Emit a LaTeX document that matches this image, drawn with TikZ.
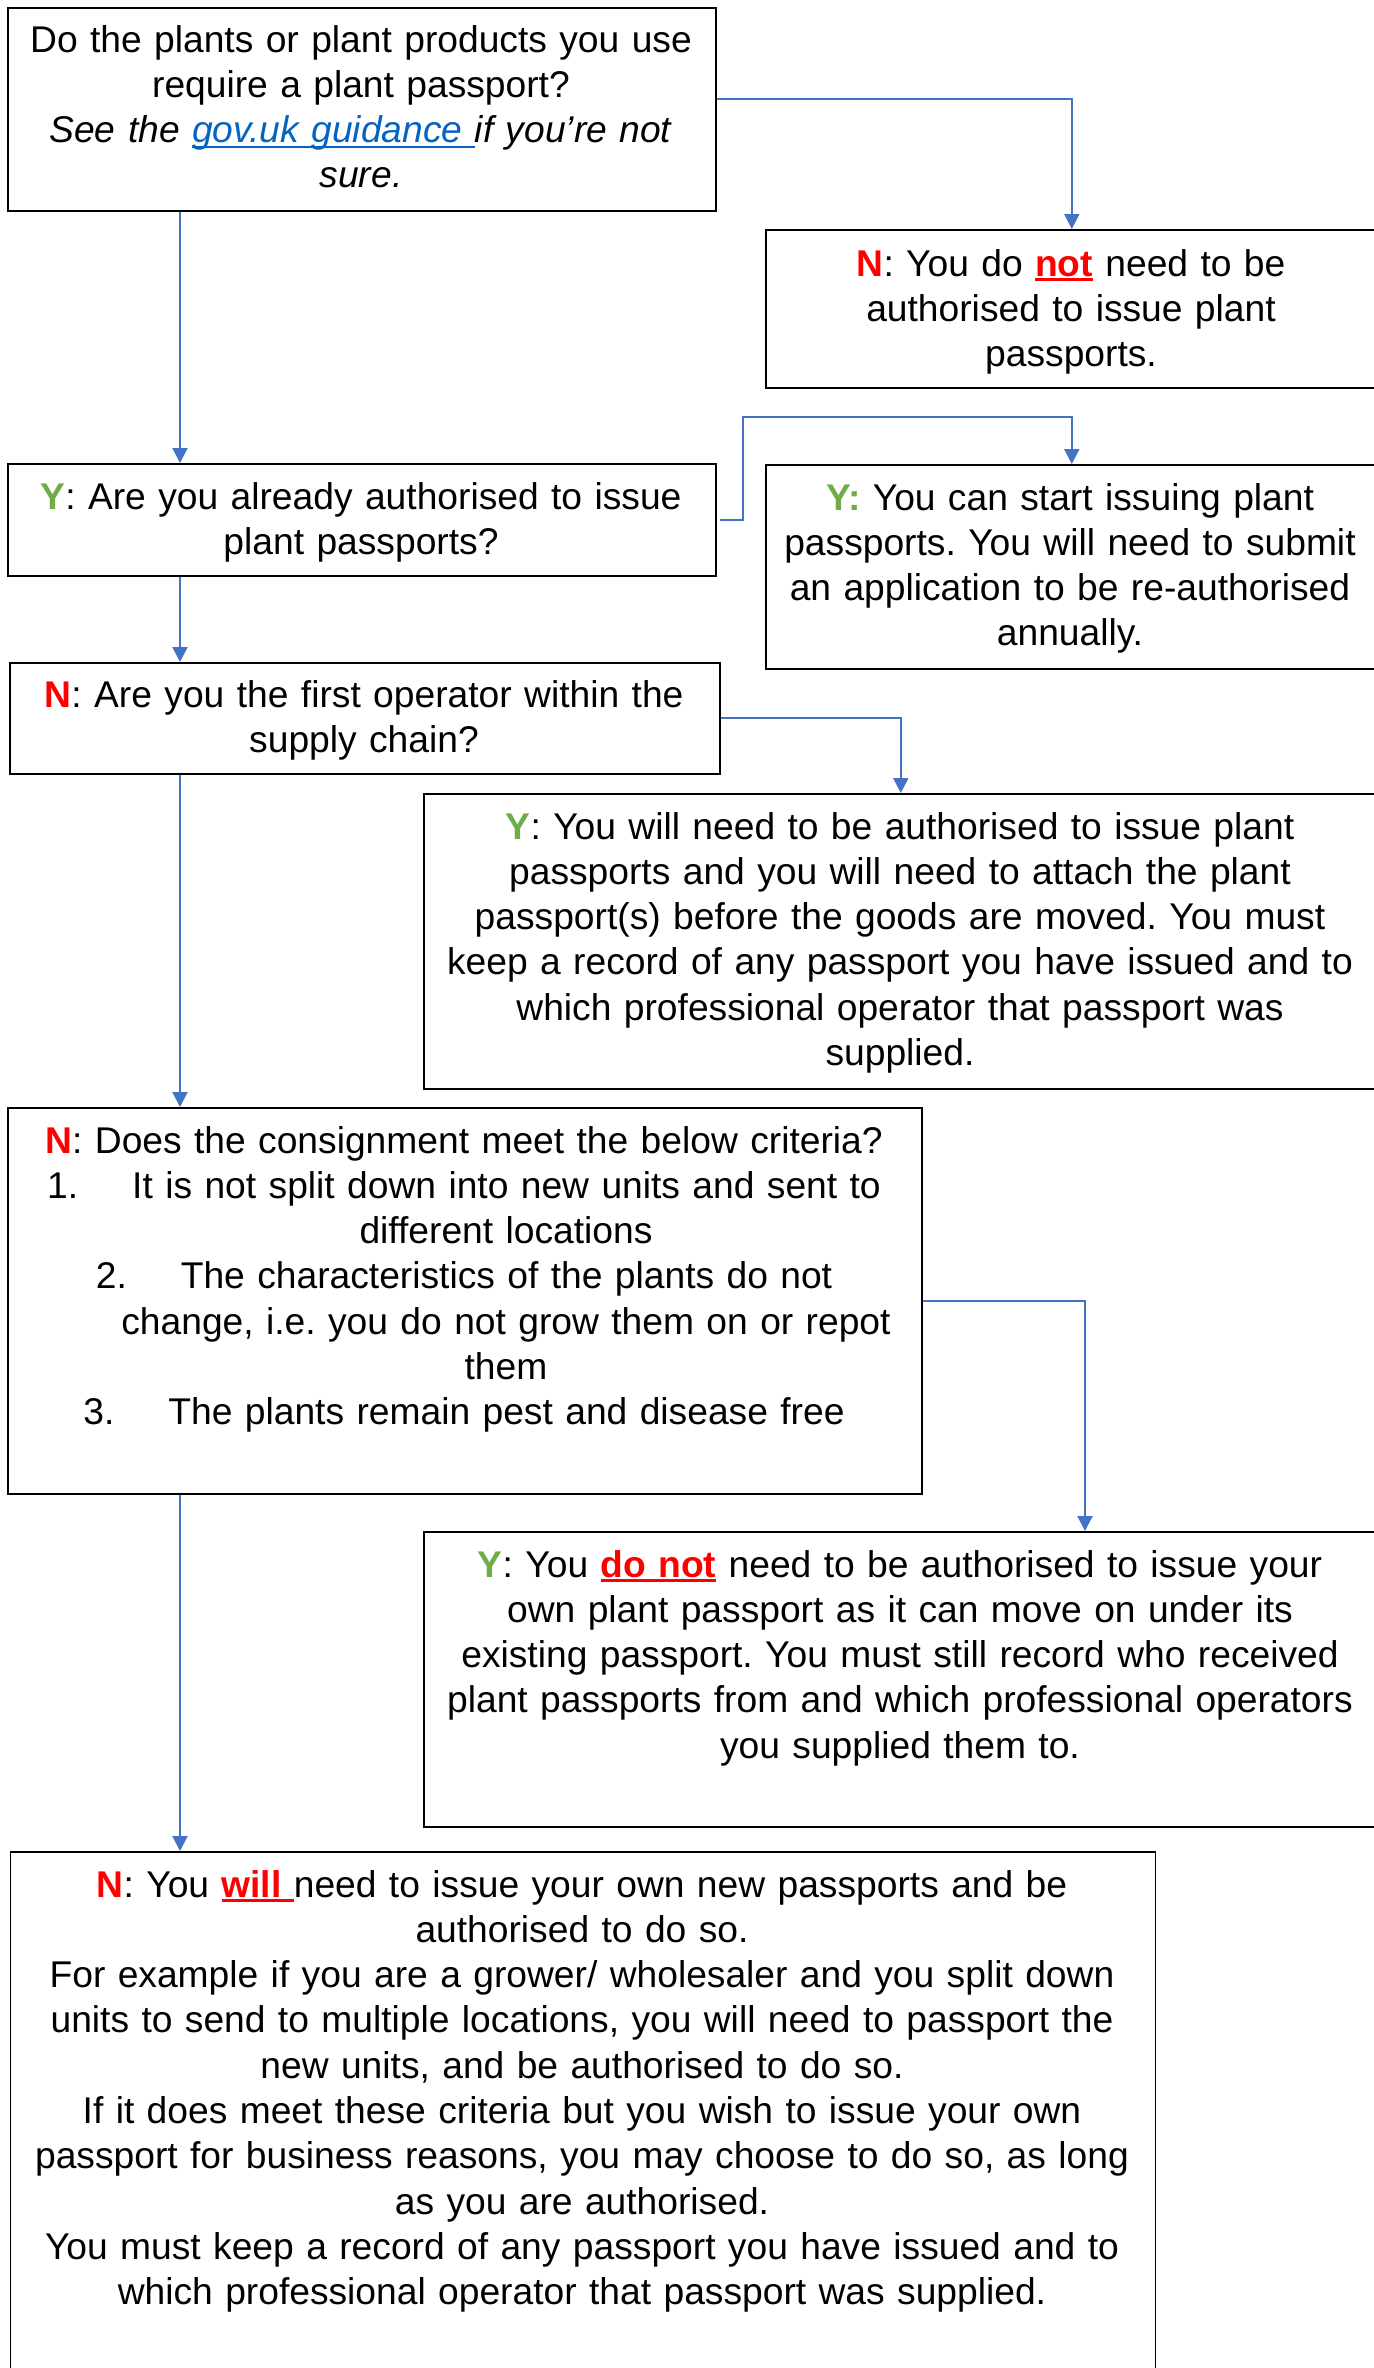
\documentclass[tikz,border=0pt]{standalone}
\usepackage{fontspec}
\setmainfont{Liberation Sans}
\usetikzlibrary{arrows.meta}
\definecolor{lineblue}{HTML}{4472C4}
\definecolor{ygreen}{HTML}{70AD47}
\definecolor{nred}{HTML}{FF0000}
\definecolor{linkblue}{HTML}{0563C1}
\newcommand{\myuline}[2][1.4pt]{\setbox0\hbox{#2}\rlap{\rule[-2.6pt]{\wd0}{#1}}\box0}
\newcommand{\NN}{{\color{nred}\bfseries N}}
\newcommand{\YY}{{\color{ygreen}\bfseries Y}}
\frenchspacing
\begin{document}
\begin{tikzpicture}[x=0.5pt,y=-0.5pt,
  box/.style={draw=black, line width=0.8pt, rectangle, inner sep=0pt, anchor=north west},
  txt/.style={anchor=base, inner sep=0pt, text width=#1, align=center,
    font=\fontsize{18.6pt}{22.65pt}\selectfont\frenchspacing},
  conn/.style={draw=lineblue, line width=1pt, -{Triangle[length=7.5pt,width=7.5pt]}}]
\path[use as bounding box, fill=white] (0,0) rectangle (1374,2368);

% boxes
\node[box, minimum width=354pt, minimum height=101.5pt] (A) at (7,7) {};
\node[box, minimum width=306pt, minimum height=79pt] (B) at (765,229) {};
\node[box, minimum width=354pt, minimum height=56pt] (C) at (7,463) {};
\node[box, minimum width=306pt, minimum height=102pt] (D) at (765,464) {};
\node[box, minimum width=355pt, minimum height=55.5pt] (E) at (9,662) {};
\node[box, minimum width=477pt, minimum height=147.5pt] (F) at (423,793) {};
\node[box, minimum width=457pt, minimum height=193pt] (G) at (7,1107) {};
\node[box, minimum width=477pt, minimum height=147.5pt] (H) at (423,1531) {};
\node[box, minimum width=572.5pt, minimum height=264.5pt] (I) at (9.6,1851) {};

% texts
\node[txt=345pt] (At) at (361,52) {Do the plants or plant products you use\\
  require a plant passport?\\
  \textit{See the {\color{linkblue}\myuline[1pt]{gov.uk guidance\ }}if you’re not}\\
  \textit{sure.}};
\node[txt=300pt] (Bt) at (1071,276) {\NN: You do {\color{nred}\bfseries\myuline{not}} need to be\\
  authorised to issue plant\\ passports.};
\node[txt=345pt] (Ct) at (361,509) {\YY: Are you already authorised to issue\\ plant passports?};
\node[txt=300pt] (Dt) at (1070,510) {{\color{ygreen}\bfseries Y:} You can start issuing plant\\
  passports. You will need to submit\\ an application to be re-authorised\\ annually.};
\node[txt=350pt] (Et) at (364,707) {\NN: Are you the first operator within the\\ supply chain?};
\node[txt=472pt] (Ft) at (900,839) {\YY: You will need to be authorised to issue plant\\
  passports and you will need to attach the plant\\
  passport(s) before the goods are moved. You must\\
  keep a record of any passport you have issued and to\\
  which professional operator that passport was\\ supplied.};
\node[txt=452pt] (Gt) at (464,1153) {\NN: Does the consignment meet the below criteria?\\
  \makebox[42.5pt][l]{1.}It is not split down into new units and sent to\\
  \hspace*{42pt}different locations\\
  \makebox[42.5pt][l]{2.}The characteristics of the plants do not\\
  \hspace*{42pt}change, i.e. you do not grow them on or repot\\
  \hspace*{42pt}them\\
  \makebox[42.5pt][l]{3.}The plants remain pest and disease free};
\node[txt=472pt] (Ht) at (900,1577) {\YY: You {\color{nred}\bfseries\myuline{do not}} need to be authorised to issue your\\
  own plant passport as it can move on under its\\
  existing passport. You must still record who received\\
  plant passports from and which professional operators\\
  you supplied them to.};
\node[txt=568pt] (It) at (582,1897) {\NN: You {\color{nred}\bfseries\myuline{will\ }}need to issue your own new passports and be\\
  authorised to do so.\\
  For example if you are a grower/ wholesaler and you split down\\
  units to send to multiple locations, you will need to passport the\\
  new units, and be authorised to do so.\\
  If it does meet these criteria but you wish to issue your own\\
  passport for business reasons, you may choose to do so, as long\\
  as you are authorised.\\
  You must keep a record of any passport you have issued and to\\
  which professional operator that passport was supplied.};

% connectors
\coordinate (sp) at (180,0);
\coordinate (hx) at (1085,0);
\draw[conn] (A.south -| sp) -- (C.north -| sp);
\draw[conn] (C.south -| sp) -- (E.north -| sp);
\draw[conn] (E.south -| sp) -- (G.north -| sp);
\draw[conn] (G.south -| sp) -- (I.north -| sp);
\draw[conn] ([yshift=5.25pt]A.east) -| (B.north);
\draw[conn] ([xshift=1.5pt]C.east) -- ++(23,0) |- ([yshift=23.75pt]D.north) -- (D.north);
\draw[conn] (E.east) -| (F.north);
\draw[conn] (G.east) -| (H.north -| hx);
\end{tikzpicture}
\end{document}
